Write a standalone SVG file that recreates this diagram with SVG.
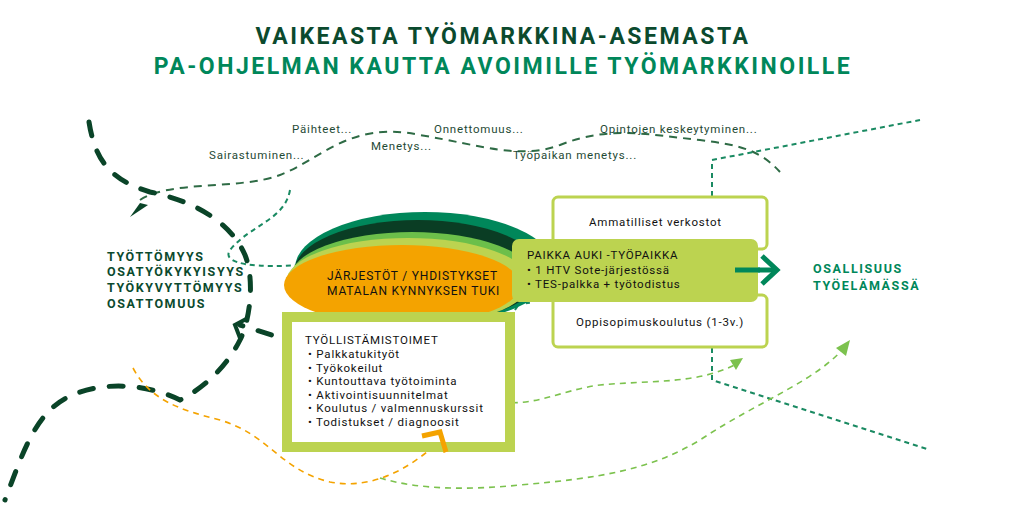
<svg xmlns="http://www.w3.org/2000/svg" width="1020" height="512" viewBox="0 0 1020 512">
<style>
text{font-family:Roboto,"Liberation Sans",sans-serif}
.t1{font-size:23px;font-weight:bold;letter-spacing:2.5px;text-anchor:middle}
.lbl{font-size:11.5px;fill:#1f4a35;letter-spacing:0.8px}
.bx{font-size:11.5px;fill:#111;letter-spacing:0.8px}
.st{font-size:12.5px;font-weight:bold;letter-spacing:1.6px}
.d1{fill:none;stroke:#2e6b45;stroke-width:2;stroke-dasharray:8 6}
.d2{fill:none;stroke:#1a8a62;stroke-width:2;stroke-dasharray:5 4}
.big{fill:none;stroke:#0a4428;stroke-width:5;stroke-dasharray:14 16;stroke-linecap:round}
.lg{fill:none;stroke:#7cc24e;stroke-width:1.6;stroke-dasharray:6 5}
.or{fill:none;stroke:#f4a300;stroke-width:1.6;stroke-dasharray:6 5}
</style>
<rect width="1020" height="512" fill="#fff"/>
<text class="t1" x="503" y="44" fill="#0b4a2e">VAIKEASTA TYÖMARKKINA-ASEMASTA</text>
<text class="t1" x="503" y="74" fill="#00875a">PA-OHJELMAN KAUTTA AVOIMILLE TYÖMARKKINOILLE</text>

<g id="connectors">
<path class="d1" d="M140,200 C170,180 240,190 280,175 C320,160 350,120 420,135 C480,145 520,160 560,145 C610,125 650,135 700,140 C740,145 760,150 780,172"/>
<path class="d2" d="M290,190 C285,220 250,225 230,250 C220,265 260,268 300,265 C360,262 400,240 450,250 C480,255 500,250 518,245"/>
<path class="big" d="M89,122 C95,160 110,180 150,192 C190,200 230,220 245,255 C255,280 250,320 240,340 C225,370 200,390 180,400 C140,380 80,380 50,410 C30,430 20,460 5,500"/>
<path class="big" d="M300,344 L240,325" stroke-width="4" stroke-dasharray="12 10"/>
<polyline points="248,318 235,325 240,338" fill="none" stroke="#0a4428" stroke-width="4"/>
<polygon points="130,217 148,205 140,203" fill="#0a4428"/>
<path class="d2" d="M495,340 C505,325 515,310 525,295"/>
<polyline points="512,298 527,290 528,304" fill="none" stroke="#1a8a62" stroke-width="4"/>
<polyline points="505,238 517,248 504,258" fill="none" stroke="#1a8a62" stroke-width="4"/>
<path class="d2" d="M712,196 L712,160 L920,120"/>
<path class="d2" d="M712,348 L712,380 L930,450"/>
<path class="or" d="M133,368 C150,400 180,410 220,420 C270,435 280,470 330,482 C370,490 410,470 440,440"/>
<polyline points="422,436 440,432 446,452" fill="none" stroke="#f4a300" stroke-width="5"/>
<path class="lg" d="M490,400 C530,410 560,390 600,385 C650,380 700,385 740,362"/>
<polygon points="743,358 730,360 736,370" fill="#7cc24e"/>
<path class="lg" d="M380,478 C420,490 470,490 520,485 C600,478 650,470 700,440 C760,400 820,380 848,343"/>
<polygon points="850,340 836,348 846,356" fill="#7cc24e"/>
<path d="M735,270 L775,270" stroke="#00875a" stroke-width="5"/>
<polyline points="762,256 777,270 762,284" fill="none" stroke="#00875a" stroke-width="5"/>
</g>

<g id="labels">
<text class="lbl" x="209" y="159">Sairastuminen...</text>
<text class="lbl" x="292" y="133">Päihteet...</text>
<text class="lbl" x="371" y="150">Menetys...</text>
<text class="lbl" x="434" y="133">Onnettomuus...</text>
<text class="lbl" x="513" y="159">Työpaikan menetys...</text>
<text class="lbl" x="600" y="133">Opintojen keskeytyminen...</text>
</g>

<g id="status">
<text class="st" fill="#0b4a2e" x="107" y="261">TYÖTTÖMYYS</text>
<text class="st" fill="#0b4a2e" x="107" y="276">OSATYÖKYKYISYYS</text>
<text class="st" fill="#0b4a2e" x="107" y="292">TYÖKYVYTTÖMYYS</text>
<text class="st" fill="#0b4a2e" x="107" y="308">OSATTOMUUS</text>
</g>

<g id="jarjestot">
<ellipse cx="425" cy="268" rx="130" ry="56" fill="#00875a"/>
<ellipse cx="418" cy="272" rx="124" ry="52" fill="#0a3d24"/>
<ellipse cx="412" cy="278" rx="122" ry="46" fill="#6cbf4a"/>
<ellipse cx="408" cy="282" rx="122" ry="44" fill="#bcd350"/>
<ellipse cx="402" cy="285" rx="118" ry="40" fill="#f4a300"/>
<text class="bx" x="327" y="280" style="font-size:12px">JÄRJESTÖT / YHDISTYKSET</text>
<text class="bx" x="327" y="295" style="font-size:12px">MATALAN KYNNYKSEN TUKI</text>
</g>

<g id="verkostot">
<rect x="553" y="197" width="214" height="52" rx="5" fill="#fff" stroke="#bcd350" stroke-width="3"/>
<text class="bx" x="589" y="226">Ammatilliset verkostot</text>
</g>
<g id="oppisopimus">
<rect x="553" y="295" width="214" height="52" rx="5" fill="#fff" stroke="#bcd350" stroke-width="3"/>
<text class="bx" x="576" y="326">Oppisopimuskoulutus (1-3v.)</text>
</g>
<g id="paikka">
<rect x="512" y="239" width="246" height="63" rx="7" fill="#bcd350"/>
<text class="bx" x="527" y="259">PAIKKA AUKI -TYÖPAIKKA</text>
<text class="bx" x="527" y="274">• 1 HTV Sote-järjestössä</text>
<text class="bx" x="527" y="288">• TES-palkka + työtodistus</text>
<path d="M735,270 L760,270" stroke="#00875a" stroke-width="5"/>
</g>

<g id="toimet">
<rect x="287" y="317" width="223" height="130" fill="#fff" stroke="#bcd350" stroke-width="10"/>
<text class="bx" x="305" y="344">TYÖLLISTÄMISTOIMET</text>
<text class="bx" x="308" y="358">•  Palkkatukityöt</text>
<text class="bx" x="308" y="372">•  Työkokeilut</text>
<text class="bx" x="308" y="385">•  Kuntouttava työtoiminta</text>
<text class="bx" x="308" y="399">•  Aktivointisuunnitelmat</text>
<text class="bx" x="308" y="412">•  Koulutus / valmennuskurssit</text>
<text class="bx" x="308" y="426">•  Todistukset / diagnoosit</text>
</g>
<polyline points="422,436 440,432 446,452" fill="none" stroke="#f4a300" stroke-width="5"/>

<g id="osallisuus">
<text class="st" fill="#00875a" x="813" y="273">OSALLISUUS</text>
<text class="st" fill="#00875a" x="813" y="290">TYÖELÄMÄSSÄ</text>
</g>
</svg>
